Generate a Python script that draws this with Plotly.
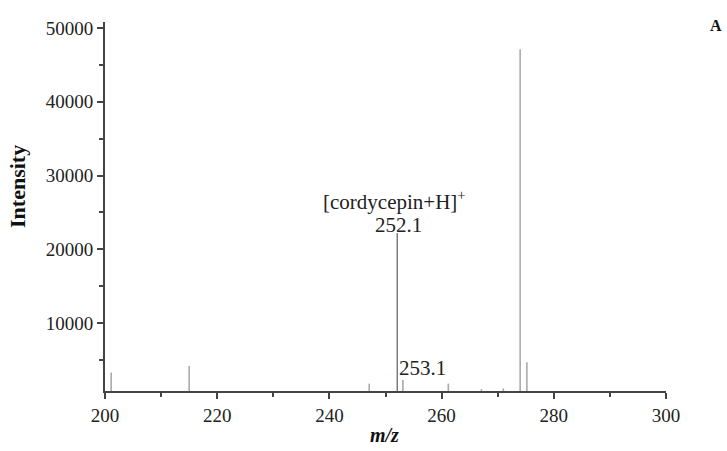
import plotly.graph_objects as go

# Data
mz_minor = [201.1, 215.0, 247.1, 253.1, 261.2, 267.1, 271.0, 274.0, 275.2]
int_minor = [3300, 4200, 1800, 2300, 1800, 1050, 1150, 47100, 4700]
mz_main = [252.1]
int_main = [22200]
x_ticks = [200, 220, 240, 260, 280, 300]
y_ticks = [10000, 20000, 30000, 40000, 50000]
y_ticktext = ["10000", "20000", "30000", "40000", "50000"]


def sticks(xs, ys):
    X, Y = [], []
    for x, y in zip(xs, ys):
        X += [x, x, None]
        Y += [0, y, None]
    return X, Y


fig = go.Figure()
xm, ym = sticks(mz_minor, int_minor)
fig.add_trace(go.Scatter(x=xm, y=ym, mode="lines",
                         line=dict(color="#aaaaaa", width=1.6), hoverinfo="skip"))
xM, yM = sticks(mz_main, int_main)
fig.add_trace(go.Scatter(x=xM, y=yM, mode="lines",
                         line=dict(color="#7a7a7a", width=1.5), hoverinfo="skip"))

font_main = "Liberation Serif"
axcol = "#444444"

fig.update_layout(
    width=727, height=451,
    margin=dict(l=105, r=61, t=22, b=60),
    paper_bgcolor="white", plot_bgcolor="white",
    showlegend=False,
    font=dict(family=font_main, color="#222222", size=19),
    xaxis=dict(range=[200, 300], tickvals=x_ticks, ticks="outside", ticklen=6,
               tickwidth=1.5, tickcolor=axcol, showline=True, linecolor=axcol,
               linewidth=1.8, showgrid=False, zeroline=False,
               minor=dict(dtick=10, tick0=200, ticks="outside", ticklen=4,
                          tickwidth=1.5, tickcolor=axcol),
               tickfont=dict(size=19, family=font_main, color="#222222")),
    yaxis=dict(range=[800, 50800], tickvals=y_ticks, ticktext=y_ticktext,
               ticks="outside", ticklen=6,
               tickwidth=1.5, tickcolor=axcol, showline=True, linecolor=axcol,
               linewidth=1.8, showgrid=False, zeroline=False,
               minor=dict(dtick=5000, tick0=0, ticks="outside", ticklen=4,
                          tickwidth=1.5, tickcolor=axcol),
               tickfont=dict(size=19, family=font_main, color="#222222")),
)

fig.add_annotation(x=252.1, y=26680, xref="x", yref="y", xshift=-3,
                   text="[cordycepin+H]<sup>+</sup>", showarrow=False,
                   font=dict(size=21, family=font_main, color="#222222"),
                   xanchor="center", yanchor="middle")
fig.add_annotation(x=252.1, y=23300, xref="x", yref="y", xshift=1,
                   text="252.1", showarrow=False,
                   font=dict(size=21, family=font_main, color="#222222"),
                   xanchor="center", yanchor="middle")
fig.add_annotation(x=253.1, y=3900, xref="x", yref="y", xshift=-6,
                   text="253.1", showarrow=False,
                   font=dict(size=21, family=font_main, color="#222222"),
                   xanchor="left", yanchor="middle")
fig.add_annotation(x=0.499, y=-0.119, xref="paper", yref="paper",
                   text="<b><i>m/z</i></b>", showarrow=False,
                   font=dict(size=20, family=font_main, color="#111111"),
                   xanchor="center", yanchor="middle")
fig.add_annotation(x=-0.155, y=0.553, xref="paper", yref="paper",
                   text="<b>Intensity</b>", showarrow=False, textangle=-90,
                   font=dict(size=22, family=font_main, color="#111111"),
                   xanchor="center", yanchor="middle")
fig.add_annotation(x=(716 - 105) / 561, y=(391 - 25) / 369, xref="paper", yref="paper",
                   text="<b>A</b>", showarrow=False,
                   font=dict(size=16, family=font_main, color="#111111"),
                   xanchor="center", yanchor="middle")

fig.write_html("out.html")
